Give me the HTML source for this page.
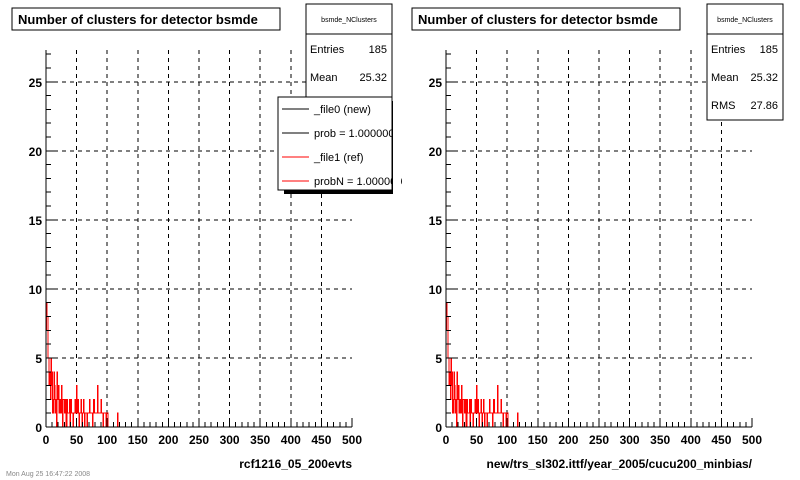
<!DOCTYPE html>
<html><head><meta charset="utf-8"><style>
html,body{margin:0;padding:0;background:#fff;}
svg{display:block;font-family:"Liberation Sans",Arial,sans-serif;}
line,rect,path{shape-rendering:crispEdges;}
</style></head><body>
<svg id="c" width="800" height="480" viewBox="0 0 800 480">
</svg>
<script>
const counts = [7,9,8,5,5,3,4,2,5,3,4,1,2,4,3,1,2,0,4,2,3,1,2,2,1,3,2,0,2,2,1,1,2,0,2,1,1,1,2,0,1,2,1,1,0,1,1,2,1,1,3,1,2,1,0,1,1,2,1,0,1,2,1,0,1,1,1,0,1,1,1,2,1,1,1,1,0,1,2,1,1,1,1,1,3,1,1,1,1,1,2,1,1,0,1,1,1,1,0,1,1,0,0,0,0,0,0,0,0,0,0,0,0,0,0,0,0,1,0,0,0];
const xTicks = [0,50,100,150,200,250,300,350,400,450,500];
const yTicks = [0,5,10,15,20,25];
const xMax = 500, yMax = 27.3;
const NS = "http://www.w3.org/2000/svg";
const svg = document.getElementById('c');
function mk(tag, attrs, parent){const e=document.createElementNS(NS,tag);for(const k in attrs)e.setAttribute(k,attrs[k]);(parent||svg).appendChild(e);return e;}

function drawPad(ox, label, title, stats, legend){
  const L=ox+46, R=ox+352, T=50, B=427;
  const sx=v=>L+(R-L)*v/xMax, sy=v=>B-(B-T)*v/yMax;
  const g=mk('g',{});
  
  
  xTicks.forEach(t=>{ if(t>0&&t<xMax){const l=mk('line',{x1:sx(t),x2:sx(t),y1:T,y2:B,stroke:'#000','stroke-dasharray':'4,4','stroke-width':1},g);
    }});
  yTicks.forEach(t=>{ if(t>0){const l=mk('line',{x1:L,x2:R,y1:sy(t),y2:sy(t),stroke:'#000','stroke-dasharray':'4,4','stroke-width':1},g);
    }});
  let d='M'+sx(0)+','+sy(0);
  counts.forEach((c,i)=>{d+=' L'+sx(i)+','+sy(c)+' L'+sx(i+1)+','+sy(c);});
  d+=' L'+sx(counts.length)+','+sy(0)+' L'+sx(xMax)+','+sy(0);
  const h=mk('path',{d:d,fill:'none',stroke:'#f00','stroke-width':1},g);
  
  mk('line',{x1:L,x2:L,y1:T,y2:B,stroke:'#000'},g);
  mk('line',{x1:L,x2:R,y1:B,y2:B,stroke:'#000'},g);
  for(let v=0;v<=xMax;v+=10){const maj=v%50==0;mk('line',{x1:sx(v),x2:sx(v),y1:B,y2:B-(maj?9:5),stroke:'#000'},g);}
  for(let v=0;v<=yMax;v+=1){const maj=v%5==0;mk('line',{x1:L,x2:L+(maj?9:5),y1:sy(v),y2:sy(v),stroke:'#000'},g);}
  xTicks.forEach(t=>{const e=mk('text',{x:sx(t),y:B+17,'text-anchor':'middle','font-size':12,'font-weight':'bold'},g);e.textContent=t;
    });
  yTicks.forEach(t=>{const e=mk('text',{x:L-4,y:sy(t)+5,'text-anchor':'end','font-size':12,'font-weight':'bold'},g);e.textContent=t;
    });
  mk('rect',{x:ox+12,y:8,width:268,height:22,fill:'#fff',stroke:'#000'},g);
  const tt=mk('text',{x:ox+18,y:24,'font-size':13,'font-weight':'bold'},g);tt.textContent=title;
  
  const xl=mk('text',{x:R,y:468,'text-anchor':'end','font-size':12,'font-weight':'bold'},g);xl.textContent=label;
  
  const bx=stats.x,bw=stats.w,bh=stats.h;
  mk('rect',{x:bx,y:4,width:bw,height:bh,fill:'#fff',stroke:'#000'},g);
  mk('line',{x1:bx,x2:bx+bw,y1:34,y2:34,stroke:'#000'},g);
  const st=mk('text',{x:bx+bw/2,y:22,'text-anchor':'middle','font-size':7},g);st.textContent='bsmde_NClusters';
  
  stats.rows.forEach((r,i)=>{const y=53+i*28;
    const a=mk('text',{x:bx+4,y:y,'font-size':11},g);a.textContent=r[0];
    const b=mk('text',{x:bx+bw-5,y:y,'font-size':11,'text-anchor':'end'},g);b.textContent=r[1];
    
    });
  if(legend){
    mk('rect',{x:284,y:101,width:112,height:93,fill:'#000'},g);
    mk('rect',{x:278,y:97,width:114,height:93,fill:'#fff',stroke:'#000'},g);
    const items=[['_file0 (new)','#000'],['prob = 1.000000','#000'],['_file1 (ref)','#f00'],['probN = 1.000000','#f00']];
    items.forEach((it,i)=>{const y=109+i*24;
      mk('line',{x1:282,x2:309,y1:y,y2:y,stroke:it[1]},g);
      const e=mk('text',{x:314,y:y+4,'font-size':11},g);e.textContent=it[0];
      });
    mk('rect',{x:393,y:95,width:8,height:100,fill:'#fff'},g);
  }
}
drawPad(0,'rcf1216_05_200evts','Number of clusters for detector bsmde',{x:306,w:86,h:110,rows:[['Entries','185'],['Mean','25.32']]},true);
drawPad(400,'new/trs_sl302.ittf/year_2005/cucu200_minbias/','Number of clusters for detector bsmde',{x:707,w:76,h:116,rows:[['Entries','185'],['Mean','25.32'],['RMS','27.86']]},false);
const dt=mk('text',{x:6,y:476,'font-size':7,fill:'#888'});dt.textContent='Mon Aug 25 16:47:22 2008';

</script>
</body></html>
